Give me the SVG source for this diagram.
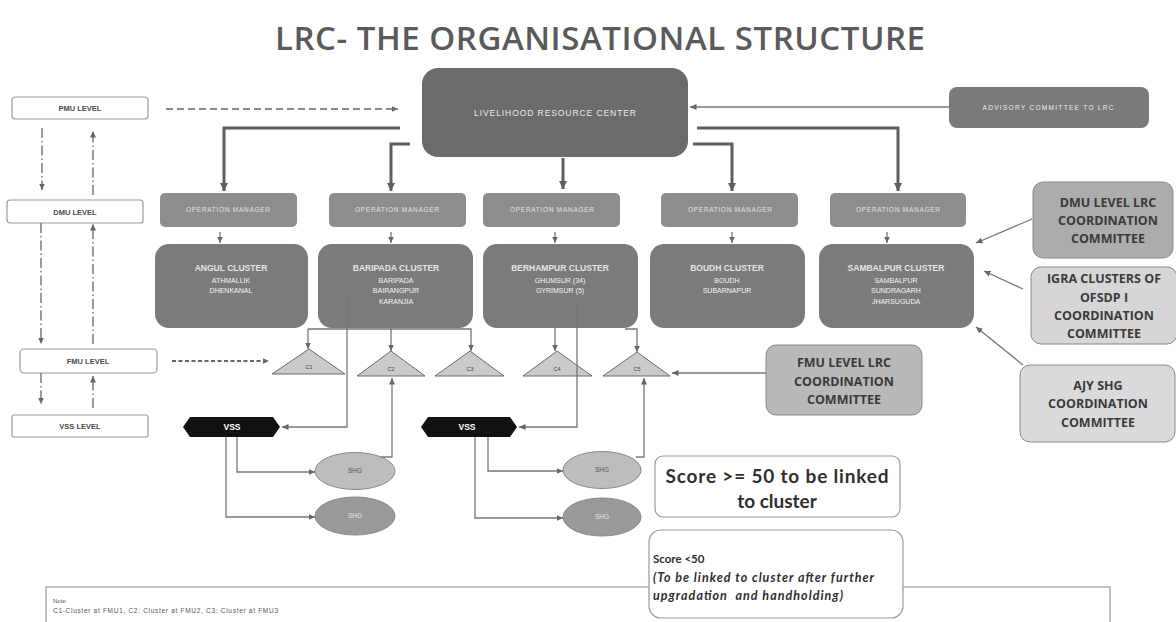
<svg xmlns="http://www.w3.org/2000/svg" width="1176" height="622" viewBox="0 0 1176 622">
<defs>
<marker id="ah" markerUnits="userSpaceOnUse" markerWidth="9" markerHeight="9" refX="8" refY="4.5" orient="auto"><path d="M0,0.5 L8,4.5 L0,8.5 z" fill="#5e5e5e"/></marker>
<marker id="as" markerUnits="userSpaceOnUse" markerWidth="7" markerHeight="7" refX="6.5" refY="3.5" orient="auto"><path d="M0,0.5 L6.5,3.5 L0,6.5 z" fill="#666"/></marker>
</defs>
<style>
.lvl{fill:#fff;stroke:#999;stroke-width:1.2}
.lvt{font-family:"Liberation Sans",Arial,sans-serif;font-size:7.5px;font-weight:bold;fill:#4a4a4a;text-anchor:middle}
.om{fill:#8d8d8d}
.omt{font-family:"Liberation Sans",Arial,sans-serif;font-size:6.5px;fill:#e2e2e2;text-anchor:middle}
.cl{fill:#7b7b7b}
.clh{font-family:"Liberation Sans",Arial,sans-serif;font-size:8.5px;font-weight:bold;fill:#e4e4e4;text-anchor:middle}
.cls{font-family:"Liberation Sans",Arial,sans-serif;font-size:7px;fill:#f4f4f4;text-anchor:middle}
.cm{stroke:#8a8a8a;stroke-width:1}
.cmt{font-family:"Open Sans","DejaVu Sans",sans-serif;font-size:12.5px;font-weight:bold;fill:#3a3a3a;text-anchor:middle}
.tri{fill:#cacaca;stroke:#6a6a6a;stroke-width:1}
.trt{font-family:"Liberation Sans",Arial,sans-serif;font-size:5.5px;fill:#444;text-anchor:middle}
.vss{fill:#111}
.vst{font-family:"Liberation Sans",Arial,sans-serif;font-size:8.5px;font-weight:bold;fill:#fff;text-anchor:middle}
.sht{font-family:"Liberation Sans",Arial,sans-serif;font-size:6.5px;text-anchor:middle}
.thick{fill:none;stroke:#5e5e5e;stroke-width:3;marker-end:url(#ah)}
.thin{fill:none;stroke:#777;stroke-width:1.3;marker-end:url(#as)}
.dd{fill:none;stroke:#666;stroke-width:1.3;stroke-dasharray:10 3 1.5 3;marker-end:url(#as)}
.box{fill:#fff;stroke:#999;stroke-width:1.2}
</style>
<rect width="1176" height="622" fill="#fff"/>
<text x="600" y="50" font-family="'Open Sans','DejaVu Sans',sans-serif" font-size="33" font-weight="600" fill="#5a5a5a" text-anchor="middle" textLength="650">LRC- THE ORGANISATIONAL STRUCTURE</text>

<g id="note">
<rect x="46" y="587" width="1064" height="60" fill="#fff" stroke="#999" stroke-width="1.2"/>
<text x="53" y="603" font-family="'Liberation Sans',Arial,sans-serif" font-size="6" fill="#555">Note:</text>
<text x="53" y="613" font-family="'Liberation Sans',Arial,sans-serif" font-size="6.5" fill="#555" textLength="225">C1-Cluster at FMU1, C2: Cluster at FMU2, C3: Cluster at FMU3</text>
</g>

<g id="pmu-level"><rect class="lvl" x="12" y="97" width="136" height="22" rx="3"/><text class="lvt" x="80" y="111">PMU LEVEL</text></g>
<g id="dmu-level"><rect class="lvl" x="7" y="200" width="136" height="23" rx="3"/><text class="lvt" x="75" y="214.5">DMU LEVEL</text></g>
<g id="fmu-level"><rect class="lvl" x="20" y="349" width="137" height="24" rx="4"/><text class="lvt" x="88" y="364">FMU LEVEL</text></g>
<g id="vss-level"><rect class="lvl" x="12" y="415" width="136" height="22" rx="2"/><text class="lvt" x="80" y="429">VSS LEVEL</text></g>

<g id="lrc"><rect x="422" y="68" width="266" height="89" rx="16" fill="#6b6b6b"/><text x="555" y="116" font-family="'Liberation Sans',Arial,sans-serif" font-size="8.5" fill="#ececec" text-anchor="middle" textLength="162">LIVELIHOOD RESOURCE CENTER</text></g>
<g id="advisory"><rect x="949" y="87" width="200" height="41" rx="8" fill="#7a7a7a"/><text x="1048" y="110" font-family="'Liberation Sans',Arial,sans-serif" font-size="6.5" fill="#eee" text-anchor="middle" textLength="131">ADVISORY COMMITTEE TO LRC</text></g>

<g id="om1"><rect class="om" x="160" y="193" width="137" height="34" rx="5"/><text class="omt" x="228" y="212" textLength="84">OPERATION  MANAGER</text></g>
<g id="om2"><rect class="om" x="329" y="193" width="137" height="34" rx="5"/><text class="omt" x="397" y="212" textLength="84">OPERATION  MANAGER</text></g>
<g id="om3"><rect class="om" x="483" y="193" width="137" height="34" rx="5"/><text class="omt" x="552" y="212" textLength="84">OPERATION  MANAGER</text></g>
<g id="om4"><rect class="om" x="661" y="193" width="137" height="34" rx="5"/><text class="omt" x="730" y="212" textLength="84">OPERATION  MANAGER</text></g>
<g id="om5"><rect class="om" x="830" y="193" width="136" height="34" rx="5"/><text class="omt" x="898" y="212" textLength="84">OPERATION  MANAGER</text></g>

<g id="angul"><rect class="cl" x="155" y="244" width="153" height="84" rx="14"/><text class="clh" x="231" y="271">ANGUL CLUSTER</text><text class="cls" x="231" y="283">ATHMALLIK</text><text class="cls" x="231" y="293">DHENKANAL</text></g>
<g id="baripada"><rect class="cl" x="318" y="244" width="155" height="84" rx="14"/><text class="clh" x="396" y="271">BARIPADA CLUSTER</text><text class="cls" x="396" y="283">BARIPADA</text><text class="cls" x="396" y="293">BAIRANGPUR</text><text class="cls" x="396" y="304">KARANJIA</text></g>
<g id="berhampur"><rect class="cl" x="483" y="244" width="155" height="84" rx="14"/><text class="clh" x="560" y="271">BERHAMPUR CLUSTER</text><text class="cls" x="560" y="283">GHUMSUR (34)</text><text class="cls" x="560" y="293">GYRIMSUR (5)</text></g>
<g id="boudh"><rect class="cl" x="650" y="244" width="155" height="84" rx="14"/><text class="clh" x="727" y="271">BOUDH CLUSTER</text><text class="cls" x="727" y="283">BOUDH</text><text class="cls" x="727" y="293">SUBARNAPUR</text></g>
<g id="sambalpur"><rect class="cl" x="819" y="244" width="155" height="84" rx="14"/><text class="clh" x="896" y="271">SAMBALPUR CLUSTER</text><text class="cls" x="896" y="283">SAMBALPUR</text><text class="cls" x="896" y="293">SUNDRAGARH</text><text class="cls" x="896" y="304">JHARSUGUDA</text></g>

<g id="dmu-committee"><rect class="cm" x="1033" y="182" width="140" height="76" rx="10" fill="#acacac"/><text class="cmt" x="1108" y="207">DMU LEVEL LRC</text><text class="cmt" x="1108" y="225">COORDINATION</text><text class="cmt" x="1108" y="243">COMMITTEE</text></g>
<g id="igra-committee"><rect class="cm" x="1031" y="267" width="146" height="77" rx="10" fill="#d6d6d6"/><text class="cmt" x="1104" y="283">IGRA CLUSTERS  OF</text><text class="cmt" x="1104" y="302">OFSDP I</text><text class="cmt" x="1104" y="320">COORDINATION</text><text class="cmt" x="1104" y="338">COMMITTEE</text></g>
<g id="ajy-committee"><rect class="cm" x="1020" y="365" width="155" height="77" rx="10" fill="#dadada"/><text class="cmt" x="1098" y="390">AJY SHG</text><text class="cmt" x="1098" y="408">COORDINATION</text><text class="cmt" x="1098" y="427">COMMITTEE</text></g>
<g id="fmu-committee"><rect class="cm" x="766" y="345" width="156" height="70" rx="10" fill="#b9b9b9"/><text class="cmt" x="844" y="367">FMU LEVEL LRC</text><text class="cmt" x="844" y="386">COORDINATION</text><text class="cmt" x="844" y="404">COMMITTEE</text></g>

<g id="c1"><path class="tri" d="M272,374 L309,349 L345,374 z"/><text class="trt" x="309" y="369">C1</text></g>
<g id="c2"><path class="tri" d="M357,376 L391,351 L425,376 z"/><text class="trt" x="391" y="371">C2</text></g>
<g id="c3"><path class="tri" d="M435,376 L470,351 L504,376 z"/><text class="trt" x="470" y="371">C3</text></g>
<g id="c4"><path class="tri" d="M523,376 L557,351 L592,376 z"/><text class="trt" x="557" y="371">C4</text></g>
<g id="c5"><path class="tri" d="M603,376 L637,352 L670,376 z"/><text class="trt" x="637" y="371">C5</text></g>

<g id="vss1"><path class="vss" d="M183,427 L190,417 L273,417 L280,427 L273,437 L190,437 z"/><text class="vst" x="232" y="430">VSS</text></g>
<g id="vss2"><path class="vss" d="M421,427 L428,417 L510,417 L517,427 L510,437 L428,437 z"/><text class="vst" x="467" y="430">VSS</text></g>

<g id="shg1"><ellipse cx="355" cy="471" rx="40" ry="18.5" fill="#bdbdbd" stroke="#888" stroke-width="1"/><text class="sht" x="355" y="473" fill="#555">SHG</text></g>
<g id="shg2"><ellipse cx="355" cy="516" rx="40" ry="19" fill="#999" stroke="#888" stroke-width="1"/><text class="sht" x="355" y="518" fill="#e6e6e6">SHG</text></g>
<g id="shg3"><ellipse cx="602" cy="470" rx="39" ry="18.5" fill="#bdbdbd" stroke="#888" stroke-width="1"/><text class="sht" x="602" y="472" fill="#555">SHG</text></g>
<g id="shg4"><ellipse cx="602" cy="517" rx="39" ry="19" fill="#999" stroke="#888" stroke-width="1"/><text class="sht" x="602" y="519" fill="#e6e6e6">SHG</text></g>

<g id="score-high"><rect class="box" x="655" y="456" width="245" height="61" rx="8"/>
<text x="777" y="483" font-family="Lato,'Open Sans',sans-serif" font-size="19" font-weight="bold" fill="#2e2e2e" text-anchor="middle" textLength="223">Score &gt;= 50 to be linked</text>
<text x="777" y="508" font-family="Lato,'Open Sans',sans-serif" font-size="19" font-weight="bold" fill="#2e2e2e" text-anchor="middle">to cluster</text></g>
<g id="score-low"><rect class="box" x="649" y="530" width="254" height="88" rx="12"/>
<text x="653" y="563" font-family="Lato,'Open Sans',sans-serif" font-size="11.5" font-weight="bold" fill="#2e2e2e">Score &lt;50</text>
<text x="653" y="582" font-family="Lato,'Open Sans',sans-serif" font-size="12.5" font-weight="bold" font-style="italic" fill="#2e2e2e" textLength="221">(To be linked to cluster after further</text>
<text x="653" y="600" font-family="Lato,'Open Sans',sans-serif" font-size="12.5" font-weight="bold" font-style="italic" fill="#2e2e2e" textLength="190" xml:space="preserve">upgradation  and handholding)</text></g>

<g id="connectors">
<path class="dd" d="M42,128 V190"/>
<path class="dd" d="M93,195 V131"/>
<path class="dd" d="M41,223 V344"/>
<path class="dd" d="M93,344 V224"/>
<path class="dd" d="M41,373 V404"/>
<path class="dd" d="M93,408 V376"/>
<path d="M166,109 H398" fill="none" stroke="#666" stroke-width="1.5" stroke-dasharray="7 4" marker-end="url(#as)"/>
<path d="M172,361 H269" fill="none" stroke="#666" stroke-width="2" stroke-dasharray="4 2.5" marker-end="url(#as)"/>
<path class="thick" d="M400,128 H224 V191"/>
<path class="thick" d="M410,144 H391 V191"/>
<path class="thick" d="M563,158 V189"/>
<path class="thick" d="M693,144 H732 V191"/>
<path class="thick" d="M697,128 H898 V191"/>
<path class="thin" d="M949,107 H690"/>
<path class="thin" d="M220,232 V243"/>
<path class="thin" d="M391,232 V243"/>
<path class="thin" d="M555,232 V243"/>
<path class="thin" d="M732,232 V243"/>
<path class="thin" d="M887,232 V243"/>
<path class="thin" d="M1032,219 L976,243"/>
<path class="thin" d="M1023,289 L984,271"/>
<path class="thin" d="M1023,365 L976,327"/>
<path class="thin" d="M766,373 H672"/>
<path class="thin" d="M308,329 V349"/>
<path class="thin" d="M308,329 H471 V351"/>
<path class="thin" d="M391,328 V351"/>
<path class="thin" d="M555,328 V351"/>
<path class="thin" d="M625,329 H637 V352"/>
<path class="thin" d="M347,295 V427 H282"/>
<path class="thin" d="M577,298 V427 H519"/>
<path class="thin" d="M237,437 V472 H315"/>
<path class="thin" d="M226,437 V517 H315"/>
<path class="thin" d="M488,437 V471 H563"/>
<path class="thin" d="M475,437 V518 H563"/>
<path class="thin" d="M381,457 H392 V378"/>
<path class="thin" d="M636,457 H644 V378"/>
</g>
</svg>
